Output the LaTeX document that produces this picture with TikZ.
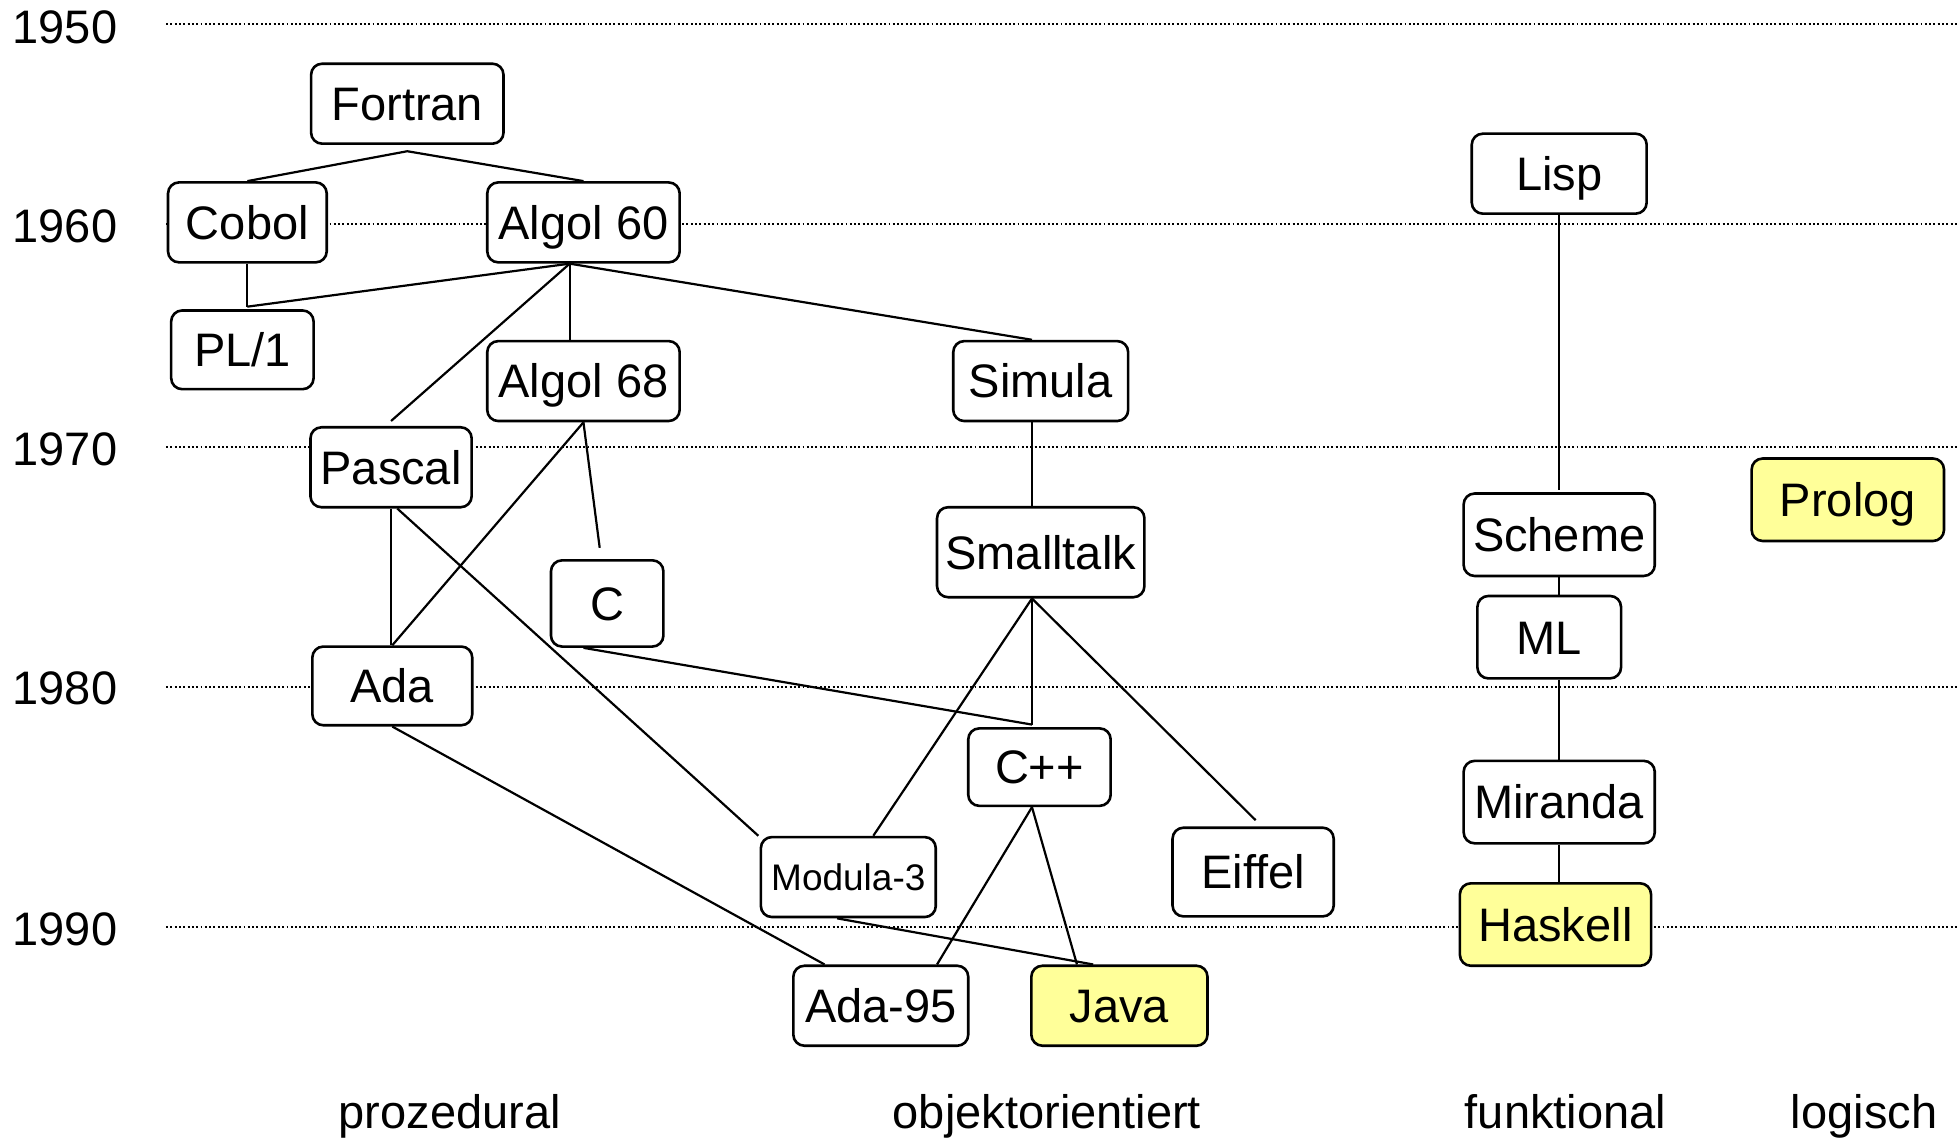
\documentclass[tikz,border=0pt]{standalone}
\usepackage{fontspec}
\setmainfont{Liberation Sans}
\usetikzlibrary{calc}
\def\uu{1.2494pt}
\definecolor{hl}{RGB}{255,255,153}
\tikzset{
  lang/.style={draw, line width=2.6pt, rounded corners=11pt, fill=white, inner sep=0pt,
    font=\fontsize{47}{56}\selectfont, text height=36pt, text depth=2.3pt},
  hot/.style={lang, fill=hl},
  small/.style={font=\fontsize{37}{44}\selectfont, text height=28.3pt, text depth=1.8pt},
  conn/.style={line width=2.2pt},
  yearline/.style={line width=1.9pt, dash pattern=on 1.9pt off 2.4pt},
  yearlabel/.style={anchor=west, inner sep=0pt, font=\fontsize{47}{56}\selectfont},
  catlabel/.style={anchor=base, inner sep=0pt, font=\fontsize{47}{56}\selectfont}
}
\begin{document}
\begin{tikzpicture}[x=\uu, y=-\uu]
\useasboundingbox (0,0) rectangle (1568,912);
% year lines
\foreach \yy/\lab/\ly in {19/1950/22, 179/1960/181, 358/1970/360, 550/1980/551, 742/1990/744}{
  \draw[yearline] (133,\yy) -- (1568,\yy);
  \node[yearlabel] (y\lab) at (10,\ly) {\lab};
}
% nodes
\node[lang, minimum width=154*\uu, minimum height=64*\uu] (fortran) at (326,83) {Fortran};
\node[lang, minimum width=127*\uu, minimum height=64*\uu] (cobol) at (198,178) {Cobol};
\node[lang, minimum width=154*\uu, minimum height=64*\uu] (algol60) at (467,178) {Algol 60};
\node[lang, minimum width=114*\uu, minimum height=63*\uu] (pl1) at (194,280) {PL/1};
\node[lang, minimum width=154*\uu, minimum height=64*\uu] (algol68) at (467,305) {Algol 68};
\node[lang, minimum width=140*\uu, minimum height=64*\uu] (simula) at (833,305) {Simula};
\node[lang, minimum width=129*\uu, minimum height=64*\uu] (pascal) at (313,374) {Pascal};
\node[lang, minimum width=90*\uu, minimum height=69*\uu] (c) at (486,483) {C};
\node[lang, minimum width=166*\uu, minimum height=72*\uu] (smalltalk) at (833,442) {Smalltalk};
\node[lang, minimum width=128*\uu, minimum height=63*\uu] (ada) at (314,549) {Ada};
\node[lang, minimum width=114*\uu, minimum height=62*\uu] (cpp) at (832,614) {C++};
\node[lang, small, minimum width=140*\uu, minimum height=64*\uu] (modula) at (679,702) {Modula-3};
\node[lang, minimum width=129*\uu, minimum height=71*\uu] (eiffel) at (1003,698) {Eiffel};
\node[lang, minimum width=140*\uu, minimum height=64*\uu] (ada95) at (705,805) {Ada-95};
\node[hot, minimum width=141*\uu, minimum height=64*\uu] (java) at (896,805) {Java};
\node[lang, minimum width=140*\uu, minimum height=64*\uu] (lisp) at (1248,139) {Lisp};
\node[lang, minimum width=153*\uu, minimum height=66*\uu] (scheme) at (1248,428) {Scheme};
\node[lang, minimum width=115*\uu, minimum height=66*\uu] (ml) at (1240,510) {ML};
\node[lang, minimum width=153*\uu, minimum height=66*\uu] (miranda) at (1248,642) {Miranda};
\node[hot, minimum width=153*\uu, minimum height=66*\uu] (haskell) at (1245,740) {Haskell};
\node[hot, minimum width=154*\uu, minimum height=66*\uu] (prolog) at (1479,400) {Prolog};
% category labels
\node[catlabel] (proz) at (360,903) {prozedural};
\node[catlabel] (oo) at (838,903) {objektorientiert};
\node[catlabel] (fun) at (1253,903) {funktional};
\node[catlabel] (log) at (1492,903) {logisch};
% junction coordinates
\coordinate (fj) at ($(fortran.south)+(0,5)$);
\coordinate (pltop) at ($(cobol.south |- pl1.north)+(0,-2)$);
\coordinate (a60) at ($(algol60.south)+(-11,0)$);
\coordinate (st) at ($(smalltalk.south)+(-7,0)$);
\coordinate (cp) at ($(cpp.south)+(-6,0)$);
\coordinate (cpptop) at ($(cpp.north)+(-6,-2)$);
% connectors
\draw[conn] (cobol.north) -- (fj) -- (algol60.north);
\draw[conn] (cobol.south) -- (pltop);
\draw[conn] (a60) -- (pltop);
\draw[conn] (a60) -- (a60 |- algol68.north);
\draw[conn] (a60) -- ($(pascal.north)+(0,-4)$);
\draw[conn] (a60) -- ($(simula.north)+(-7,0)$);
\draw[conn] (algol68.south) -- (ada.north);
\draw[conn] (algol68.south) -- ($(c.north)+(-6,-9)$);
\draw[conn] ($(simula.south)+(-7,0)$) -- ($(smalltalk.north)+(-7,0)$);
\draw[conn] (pascal.south) -- (pascal.south |- ada.north);
\draw[conn] ($(pascal.south)+(5,0)$) -- ($(modula.north west)+(-1,0)$);
\draw[conn] ($(c.south)+(-19,0)$) -- (cpptop);
\draw[conn] (st) -- ($(modula.north)+(20,0)$);
\draw[conn] (st) -- (cpptop);
\draw[conn] (st) -- ($(eiffel.north)+(2,-5)$);
\draw[conn] (ada.south) -- ($(ada95.north)+(-45,0)$);
\draw[conn] (cp) -- ($(ada95.north)+(45,0)$);
\draw[conn] (cp) -- ($(java.north)+(-34,0)$);
\draw[conn] ($(modula.south)+(-9,0)$) -- ($(java.north)+(-21,0)$);
\draw[conn] (lisp.south) -- ($(scheme.north)+(0,-2)$);
\draw[conn] (scheme.south) -- (scheme.south |- ml.north);
\draw[conn] (scheme.south |- ml.south) -- (miranda.north);
\draw[conn] (miranda.south) -- (miranda.south |- haskell.north);
\end{tikzpicture}
\end{document}
